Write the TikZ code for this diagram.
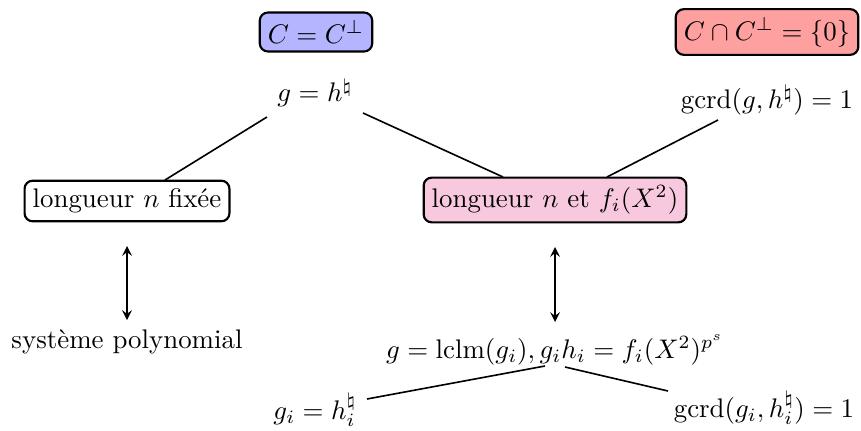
\documentclass[tikz,border=0pt]{standalone}
\definecolor{boxblue}{RGB}{180,180,255}
\definecolor{boxred}{RGB}{255,160,160}
\definecolor{boxpink}{RGB}{248,200,222}
\tikzset{
  x=0.372pt, y=-0.372pt,
  rbox/.style={draw, line width=0.8pt, rounded corners=3pt, inner sep=3pt},
  plain/.style={inner sep=2pt},
  link/.style={line width=0.6pt},
  dbl/.style={line width=0.6pt, <->, >=stealth}
}
\begin{document}
\begin{tikzpicture}
\useasboundingbox (0,0) rectangle (861,430);
\node[rbox, fill=boxblue] (cc) at (316,32) {$C=C^{\perp}$};
\node[rbox, fill=boxred] (ci) at (767,32) {$C\cap C^{\perp}=\{0\}$};
\node[plain] (gh) at (315,93) {$g=h^{\natural}$};
\node[plain] (gcrd) at (767,100) {$\mathrm{gcrd}(g,h^{\natural})=1$};
\node[rbox] (lf) at (127,201) {longueur $n$ fixée};
\node[rbox, fill=boxpink] (rf) at (555,200) {longueur $n$ et $f_i(X^2)$};
\node[plain] (sp) at (127,342) {système polynomial};
\node[plain] (lclm) at (555,350) {$g=\mathrm{lclm}(g_i), g_ih_i=f_i(X^2)^{p^s}$};
\node[plain] (gi) at (315,410) {$g_i=h_i^{\natural}$};
\node[plain] (gcrdi) at (764,408) {$\mathrm{gcrd}(g_i,h_i^{\natural})=1$};
\draw[link] ([shift={(-48,24)}]gh.center) -- ([shift={(38,-21)}]lf.center);
\draw[link] ([shift={(48,20)}]gh.center) -- ([shift={(-52,-23)}]rf.center);
\draw[link] ([shift={(-49,20)}]gcrd.center) -- ([shift={(52,-23)}]rf.center);
\draw[dbl] ([shift={(0,45)}]lf.center) -- ([shift={(0,-22)}]sp.center);
\draw[dbl] ([shift={(0,47)}]rf.center) -- ([shift={(0,-28)}]lclm.center);
\draw[link] ([shift={(-10,16)}]lclm.center) -- ([shift={(52,-11)}]gi.center);
\draw[link] ([shift={(10,17)}]lclm.center) -- ([shift={(-96,-17)}]gcrdi.center);
\end{tikzpicture}
\end{document}
